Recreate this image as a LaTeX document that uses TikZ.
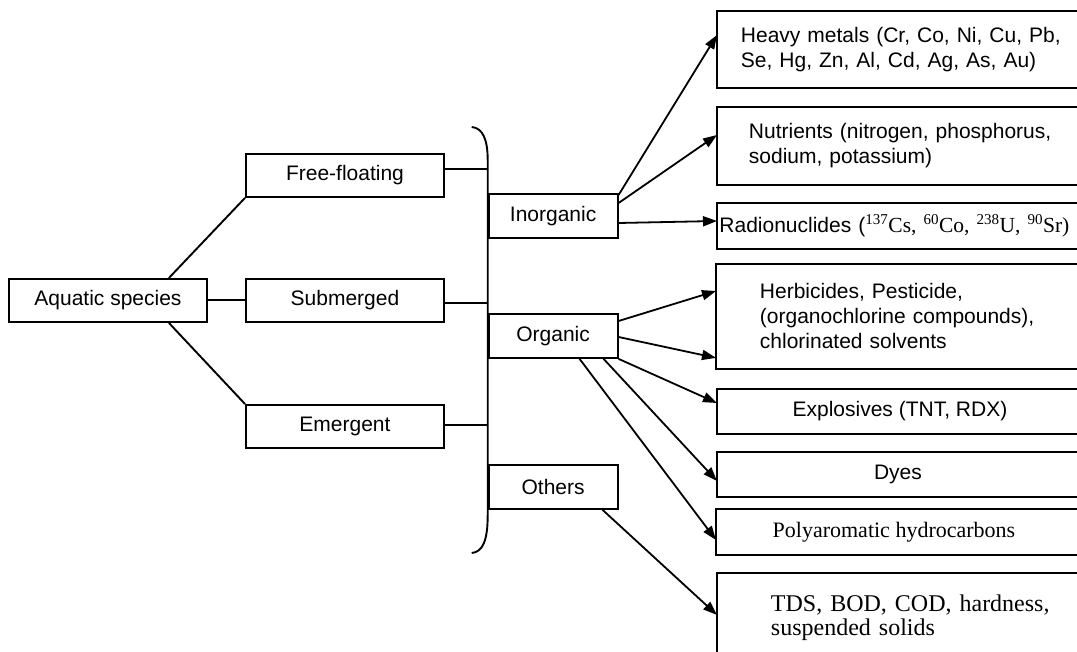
\documentclass[tikz,border=0pt]{standalone}
\usepackage{fontspec}
\setmainfont{Liberation Sans}
\newfontfamily\serifrm{Liberation Serif}
\usetikzlibrary{arrows.meta}

\begin{document}
\begin{tikzpicture}[x=1pt,y=-1pt,
  line width=1.9pt,
  box/.style={draw, line width=1.9pt, inner sep=0pt, anchor=north west,
    font=\fontsize{21}{25}\selectfont},
  lbox/.style={box, minimum width=198pt, minimum height=43pt},
  cbox/.style={box, minimum width=129pt, minimum height=44pt},
  % boxes of the right column run off the right margin: text only here,
  % the outline is drawn separately up to (edge)
  rbox/.style={box, draw=none, align=left, inner ysep=0pt},
  mbox/.style={box, draw=none, align=center},
  frame/.style={line width=1.9pt},
  arr/.style={-{Triangle[length=14pt,width=10pt]}, line width=1.8pt},
  link/.style={line width=1.9pt}
]
\useasboundingbox (0,0) rectangle (1077,652);
\clip (0,0) rectangle (1077,652);
\coordinate (edge) at (1110,0);

% plant groups
\node[lbox] (aq)  at (8,278)   {Aquatic species};
\node[lbox] (ff)  at (245,153) {Free-floating};
\node[lbox] (sub) at (245,278) {Submerged};
\node[lbox] (em)  at (245,404) {Emergent};

% brace collecting the plant groups
\coordinate (br) at (487.7,300);
\draw[link] (471.7,127) .. controls (483,128) and (487.7,140) .. (487.7,160)
  -- (487.7,515) .. controls (487.7,540) and (483,552) .. (471.7,553);

% pollutant classes
\node[cbox] (inorg) at (487.7,193) {Inorganic};
\node[cbox] (org)   at (487.7,313) {Organic};
\node[cbox] (oth)   at (487.7,464) {Others};

% pollutants
\node[rbox, inner xsep=23pt, text width=340pt, minimum height=75.5pt] (heavy) at (717,11)
  {Heavy metals (Cr, Co, Ni, Cu, Pb,\\Se, Hg, Zn, Al, Cd, Ag, As, Au)};
\node[rbox, inner xsep=31pt, text width=340pt, minimum height=76pt] (nutr) at (717,107)
  {Nutrients (nitrogen, phosphorus,\\sodium, potassium)};
\node[rbox, inner xsep=1.5pt, text width=420pt, minimum height=44pt] (radio) at (717,203)
  {Radionuclides ({\serifrm\fontsize{21.5}{25}\selectfont\textsuperscript{137}Cs, \textsuperscript{60}Co, \textsuperscript{238}U, \textsuperscript{90}Sr)}};
\node[rbox, inner xsep=43pt, text width=340pt, minimum height=103pt] (herb) at (716,264)
  {Herbicides, Pesticide,\\(organochlorine compounds),\\chlorinated solvents};
\node[mbox, minimum width=364pt, minimum height=43pt] (expl) at (717,389) {Explosives (TNT, RDX)};
\node[mbox, minimum width=360pt, minimum height=43pt] (dyes) at (717,452) {Dyes};
\node[mbox, minimum width=354pt, minimum height=44pt,
  font=\serifrm\fontsize{22}{25}\selectfont] (pah) at (716,509) {Polyaromatic hydrocarbons};
\node[rbox, inner xsep=53pt, text width=340pt, minimum height=87pt,
  font=\serifrm\fontsize{24}{24}\selectfont] (tds) at (717,573)
  {TDS, BOD, COD, hardness,\\suspended solids};

\foreach \n in {heavy,nutr,radio,herb,expl,dyes,pah,tds}
  \draw[frame] (\n.north west) rectangle (\n.south west -| edge);

% plant groups
\draw[link] ([xshift=-39pt]aq.north east) -- (ff.south west);
\draw[link] (aq.east) -- (sub.west);
\draw[link] ([xshift=-39pt]aq.south east) -- (em.north west);
\draw[link] ([yshift=6pt]ff.east) -- ([yshift=6pt]ff.east -| br);
\draw[link] ([yshift=-2.5pt]sub.east) -- ([yshift=-2.5pt]sub.east -| br);
\draw[link] ([yshift=1.5pt]em.east) -- ([yshift=1.5pt]em.east -| br);

% inorganic pollutants
\draw[arr] ([yshift=-2pt]inorg.north east) -- ([yshift=-24pt]heavy.north west);
\draw[arr] ([yshift=-10pt]inorg.north east) -- ([yshift=-28pt]nutr.north west);
\draw[arr] ([yshift=-30pt]inorg.north east) -- ([yshift=-18pt]radio.north west);

% organic pollutants
\draw[arr] ([yshift=-8pt]org.north east) -- ([yshift=-27pt]herb.north west);
\draw[arr] ([yshift=-24pt]org.north east) -- ([yshift=11pt]herb.south west);
\draw[arr] (org.south east) -- ([yshift=-14pt]expl.north west);
\draw[arr] ([xshift=-15pt]org.south east) -- ([yshift=-29pt]dyes.north west);
\draw[arr] ([xshift=-39pt]org.south east) -- ([yshift=-31pt]pah.north west);

% other parameters
\draw[arr] ([xshift=-16pt]oth.south east) -- ([yshift=-42pt]tds.north west);
\end{tikzpicture}
\end{document}
